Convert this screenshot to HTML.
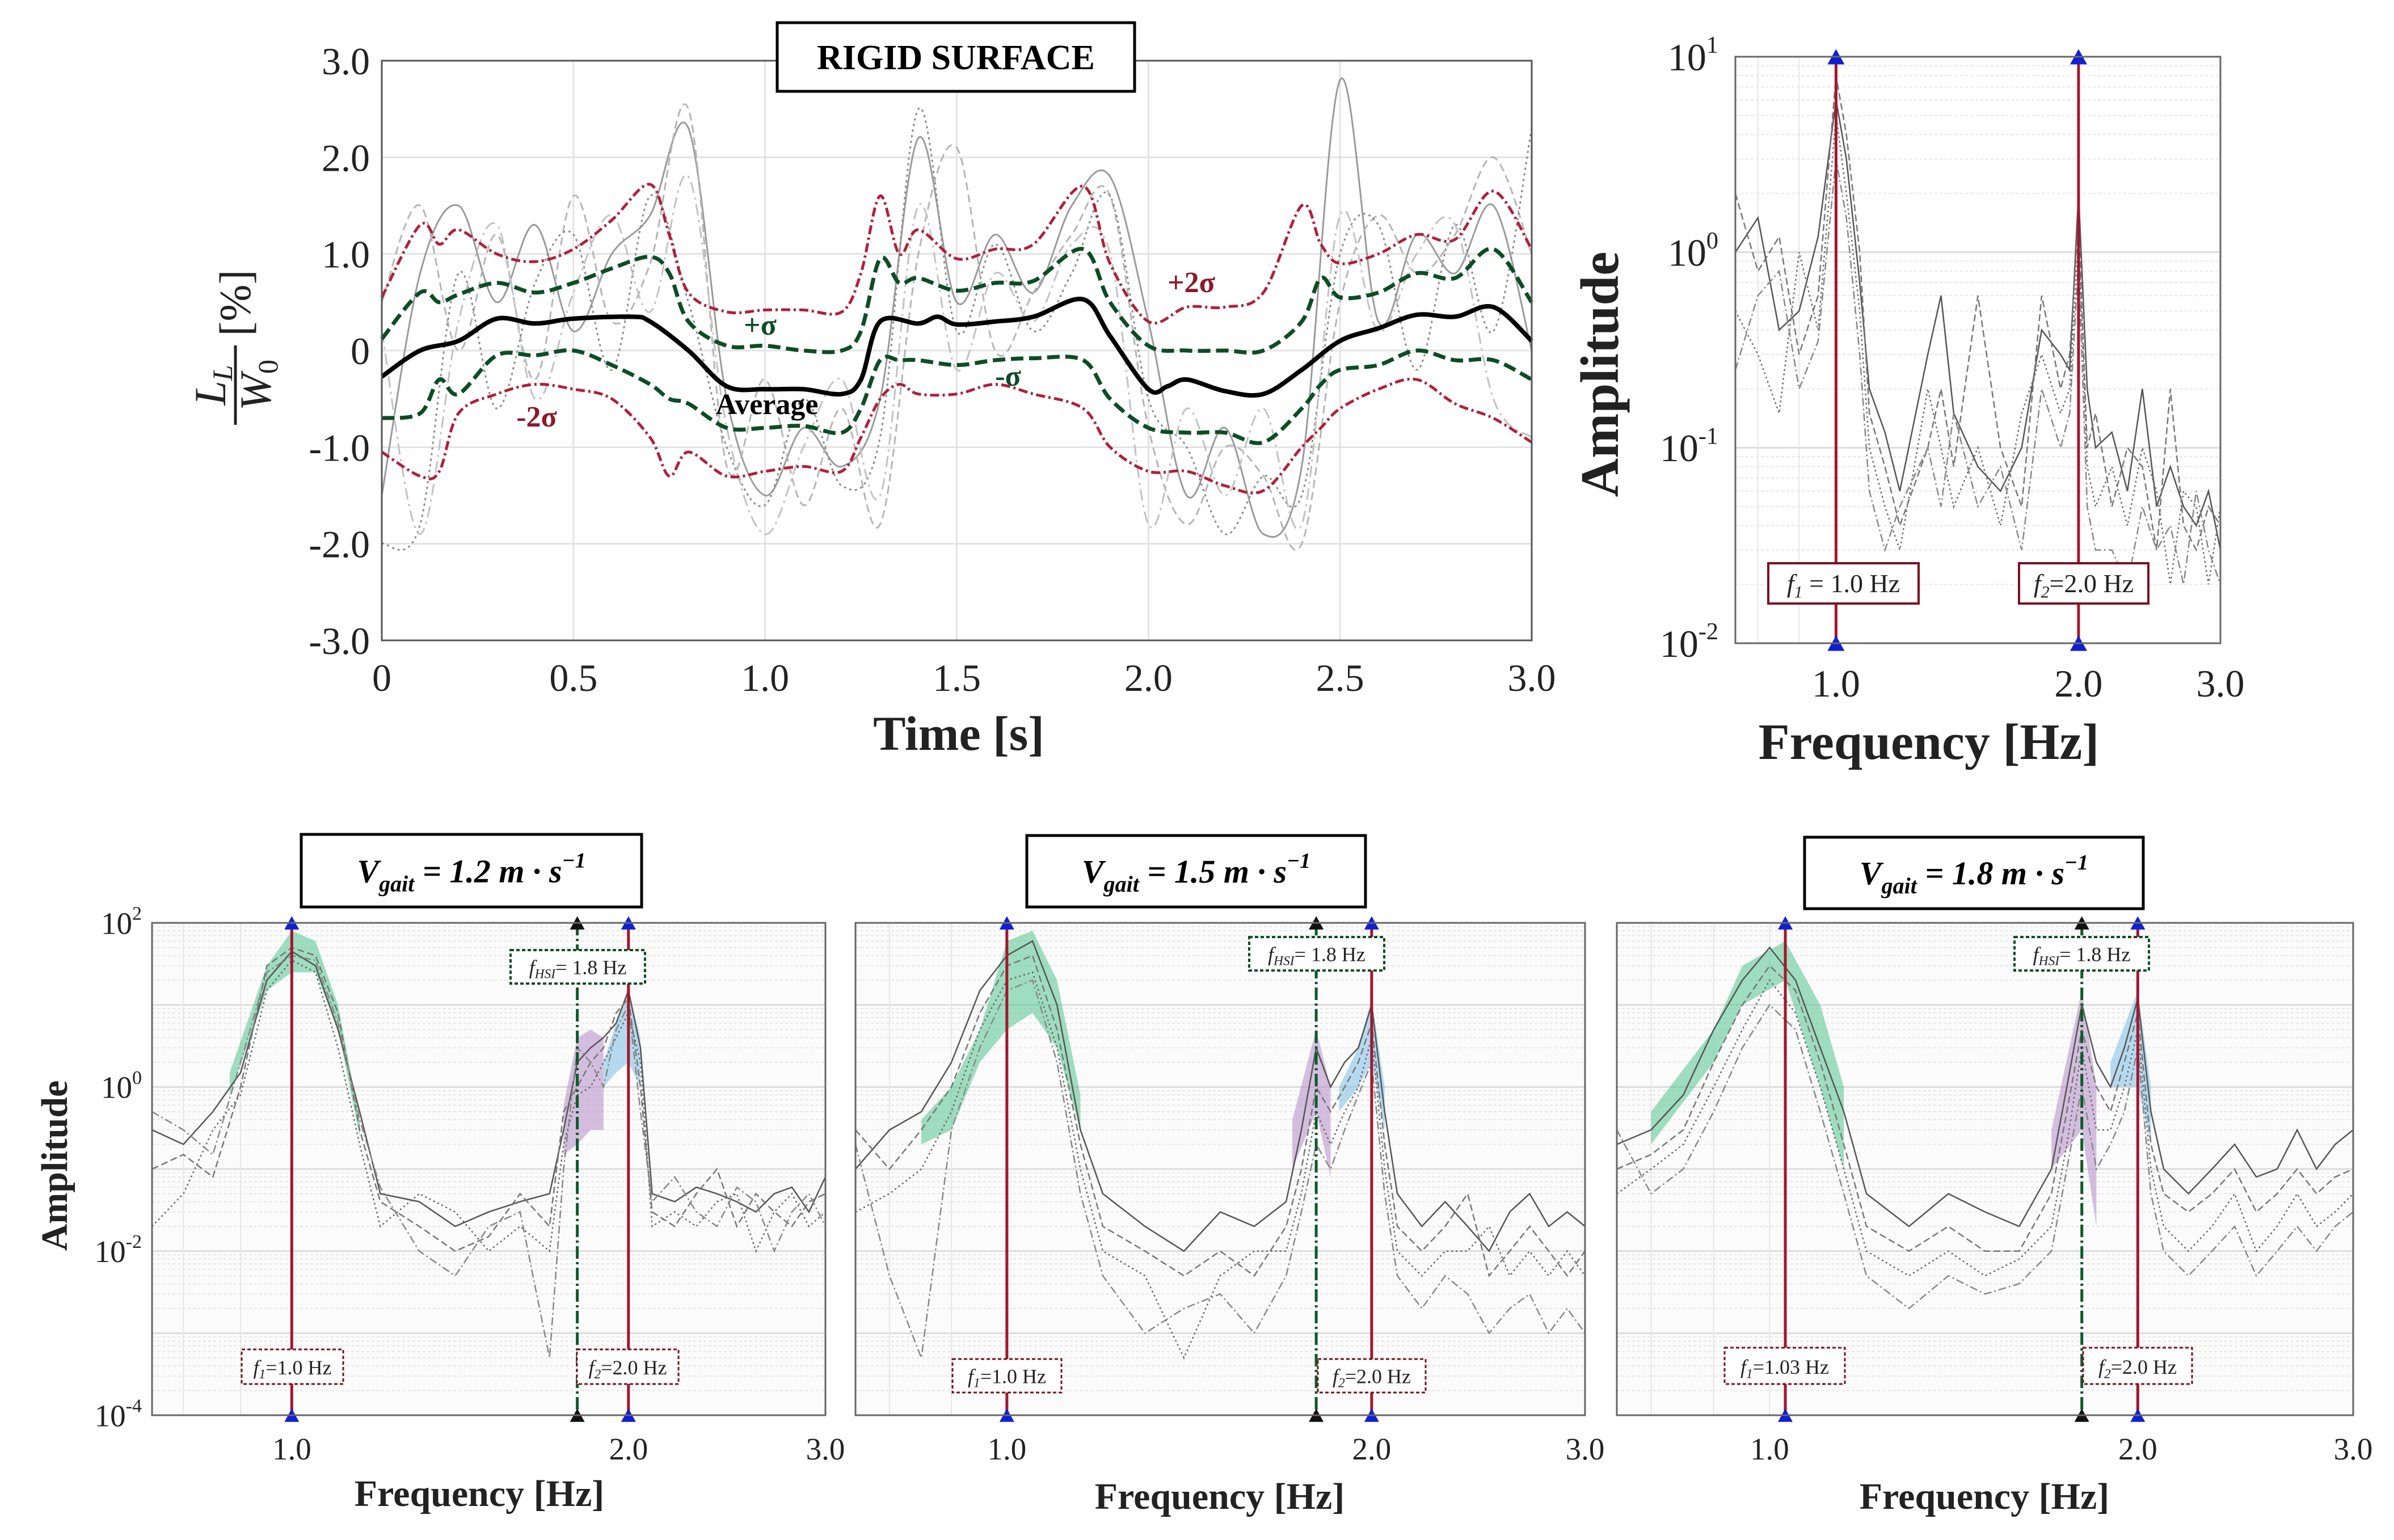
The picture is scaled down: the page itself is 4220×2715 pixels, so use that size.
<!DOCTYPE html>
<html><head><meta charset="utf-8"><style>
html,body{margin:0;padding:0;background:#fff}
svg{display:block}
text{font-family:"Liberation Serif",serif}
</style></head><body>
<svg id="fig" xmlns="http://www.w3.org/2000/svg" width="4220" height="2715" viewBox="0 0 4220 2715">
<rect width="4220" height="2715" fill="#fff"/>
<g id="layer"></g>
</svg>
<script>
// ---------- DATA ----------
// Time domain (rigid surface)
const timeGrid=[0,0.1,0.2,0.3,0.4,0.5,0.6,0.7,0.8,0.9,1.0,1.1,1.2,1.3,1.4,1.5,1.6,1.7,1.8,1.9,2.0,2.1,2.2,2.3,2.4,2.5,2.6,2.7,2.8,2.9,3.0];
const trace1=[-1.5,0.8,1.5,0.5,1.3,0.2,1.0,1.4,2.3,-0.5,-1.5,-0.8,-1.2,-0.5,2.2,0.5,1.2,0.6,1.5,1.8,0.3,-1.5,-0.8,-1.9,-1.2,2.8,0.3,1.2,0.8,1.5,0.0];
const trace2=[0.5,1.5,0.0,1.2,-0.3,1.6,0.3,0.9,2.5,-1.2,-0.3,-1.6,-0.6,-1.8,1.0,2.1,0.0,0.6,1.2,1.6,-0.8,-1.8,-1.0,-1.3,-2.0,0.5,1.4,0.8,1.2,2.0,1.0];
const trace3=[-2.0,-1.8,0.8,-0.6,0.7,1.2,-0.2,1.6,0.5,-1.0,-1.6,-0.5,-1.4,-0.9,2.5,0.2,1.1,0.2,0.8,1.6,-0.5,-1.0,-1.9,-1.3,-1.5,1.0,1.3,-0.2,1.3,0.2,2.3];
const trace4=[0.2,-1.9,0.3,1.3,-0.5,0.6,1.4,0.4,1.8,-0.8,-1.9,-1.0,-0.3,-1.5,1.5,-0.2,0.8,0.3,1.1,1.0,-1.8,-0.6,-1.5,-0.6,-1.8,1.4,0.2,1.0,1.3,-0.5,-0.9];
const avgT=[0,0.1,0.2,0.3,0.4,0.5,0.65,0.7,0.8,0.9,1.0,1.1,1.2,1.25,1.3,1.4,1.45,1.5,1.6,1.7,1.83,1.9,2.0,2.05,2.1,2.2,2.3,2.4,2.5,2.6,2.7,2.8,2.9,3.0];
const avgV=[-0.27,0.0,0.1,0.33,0.28,0.33,0.35,0.3,0.0,-0.37,-0.4,-0.4,-0.45,-0.3,0.3,0.28,0.35,0.27,0.3,0.35,0.53,0.15,-0.4,-0.37,-0.3,-0.42,-0.45,-0.2,0.1,0.23,0.37,0.35,0.45,0.1];
const bandT=[0,0.1,0.15,0.2,0.3,0.4,0.5,0.6,0.7,0.75,0.8,0.9,1.0,1.1,1.2,1.25,1.3,1.35,1.4,1.5,1.6,1.7,1.83,1.9,2.0,2.1,2.2,2.3,2.4,2.45,2.5,2.6,2.7,2.8,2.9,3.0];
const plusSigma=[0.12,0.6,0.5,0.58,0.7,0.6,0.7,0.85,0.97,0.8,0.3,0.05,0.05,0.0,0.0,0.2,0.95,0.7,0.75,0.62,0.7,0.72,1.05,0.5,0.05,0.0,0.0,0.0,0.3,0.75,0.55,0.6,0.8,0.75,1.05,0.5];
const minusSigma=[-0.7,-0.65,-0.3,-0.45,-0.05,-0.05,0.0,-0.15,-0.35,-0.5,-0.55,-0.8,-0.8,-0.78,-0.85,-0.6,-0.1,-0.1,-0.1,-0.15,-0.1,-0.08,-0.1,-0.5,-0.8,-0.85,-0.85,-0.95,-0.6,-0.35,-0.2,-0.15,0.0,-0.1,-0.1,-0.3];
const plus2Sigma=[0.55,1.3,1.1,1.25,1.0,0.92,1.05,1.35,1.72,1.2,0.6,0.4,0.42,0.42,0.4,0.8,1.6,1.0,1.25,0.95,1.05,1.1,1.7,0.9,0.3,0.45,0.45,0.6,1.5,1.1,0.9,1.0,1.2,1.15,1.65,1.05];
const minus2Sigma=[-1.05,-1.3,-1.25,-0.65,-0.45,-0.35,-0.4,-0.5,-0.9,-1.3,-1.05,-1.3,-1.25,-1.2,-1.25,-0.9,-0.5,-0.35,-0.45,-0.45,-0.35,-0.45,-0.6,-1.0,-1.25,-1.25,-1.4,-1.45,-1.0,-0.8,-0.6,-0.4,-0.3,-0.55,-0.7,-0.95];
const timeTicks=[0,0.5,1.0,1.5,2.0,2.5,3.0];
const timeTickLabels=["0","0.5","1.0","1.5","2.0","2.5","3.0"];
const loadTicks=[-3,-2,-1,0,1,2,3];
const loadTickLabels=["-3.0","-2.0","-1.0","0","1.0","2.0","3.0"];
// Spectrum (rigid)
const freqRigid=[0.75,0.8,0.85,0.9,0.95,1.0,1.03,1.07,1.1,1.15,1.2,1.3,1.35,1.4,1.5,1.6,1.7,1.8,1.9,1.95,2.0,2.05,2.1,2.2,2.3,2.4,2.5,2.6,2.7,2.8,2.9,3.0];
const rigidA=[1.0,1.5,0.4,0.5,1.2,6,3,0.7,0.2,0.12,0.06,0.3,0.6,0.15,0.08,0.06,0.1,0.4,0.3,0.25,2,0.2,0.1,0.12,0.06,0.2,0.05,0.08,0.05,0.04,0.06,0.03];
const rigidB=[2,0.8,1.2,0.3,0.6,8,4,1.0,0.15,0.08,0.04,0.1,0.2,0.08,0.6,0.1,0.05,0.6,0.2,0.3,1.5,0.1,0.15,0.05,0.1,0.08,0.03,0.2,0.04,0.03,0.05,0.04];
const rigidC=[0.5,0.3,0.15,1.0,0.4,5,2,0.5,0.1,0.05,0.03,0.2,0.1,0.05,0.1,0.04,0.15,0.3,0.15,0.2,1.2,0.08,0.05,0.08,0.04,0.1,0.06,0.02,0.06,0.05,0.02,0.05];
const rigidD=[0.25,0.6,0.8,0.2,0.35,3,1.5,0.3,0.06,0.03,0.05,0.1,0.05,0.15,0.05,0.08,0.03,0.2,0.1,0.15,0.9,0.05,0.03,0.03,0.02,0.05,0.03,0.04,0.02,0.06,0.03,0.02];
// Spectra by gait speed
const freqGait=[0.75,0.8,0.85,0.9,0.95,1.0,1.05,1.1,1.15,1.2,1.3,1.4,1.5,1.6,1.7,1.75,1.8,1.85,1.9,1.95,2.0,2.05,2.1,2.2,2.3,2.4,2.5,2.6,2.7,2.8,2.9,3.0];
const g12A=[0.3,0.2,0.5,1.5,20,45,30,5,0.5,0.05,0.04,0.02,0.03,0.04,0.05,0.3,2,3,4,6,15,3,0.05,0.04,0.06,0.05,0.04,0.03,0.05,0.06,0.03,0.08];
const g12B=[0.1,0.15,0.08,1.0,30,50,40,8,0.3,0.04,0.02,0.01,0.015,0.05,0.02,0.5,1,2,3,8,12,1,0.03,0.02,0.05,0.1,0.02,0.05,0.03,0.02,0.04,0.05];
const g12C=[0.02,0.05,0.3,0.8,15,35,25,3,0.2,0.02,0.05,0.03,0.01,0.02,0.01,0.2,0.8,1,2,4,8,2,0.02,0.03,0.02,0.04,0.05,0.01,0.03,0.05,0.02,0.03];
const g12D=[0.5,0.3,0.15,2,25,40,35,6,0.4,0.06,0.01,0.005,0.02,0.03,0.0005,0.1,3,2,1,5,10,0.5,0.04,0.08,0.03,0.02,0.06,0.04,0.01,0.03,0.05,0.02];
const g15A=[0.1,0.3,0.5,2,15,40,60,10,0.3,0.05,0.02,0.01,0.03,0.02,0.04,0.3,3,1,2,3,10,0.5,0.05,0.02,0.04,0.02,0.01,0.03,0.05,0.02,0.03,0.02];
const g15B=[0.3,0.1,0.3,1,8,30,40,5,0.2,0.02,0.01,0.005,0.01,0.005,0.02,0.1,1,0.5,1,2,6,0.2,0.02,0.01,0.02,0.05,0.005,0.01,0.02,0.01,0.005,0.01];
const g15C=[0.03,0.05,0.1,0.5,5,20,25,3,0.1,0.01,0.005,0.0005,0.005,0.01,0.01,0.05,0.5,0.2,0.5,1,4,0.1,0.01,0.005,0.01,0.01,0.02,0.005,0.01,0.005,0.01,0.005];
const g15D=[0.2,0.005,0.0005,0.3,3,15,20,2,0.05,0.005,0.001,0.002,0.003,0.001,0.005,0.03,0.2,0.1,0.3,0.8,2,0.05,0.005,0.002,0.005,0.003,0.001,0.002,0.003,0.001,0.002,0.001];
const g18A=[0.2,0.3,0.8,5,20,50,20,3,0.5,0.05,0.02,0.05,0.03,0.02,0.1,1,10,2,1,3,12,0.5,0.1,0.05,0.1,0.2,0.08,0.1,0.3,0.1,0.2,0.3];
const g18B=[0.1,0.15,0.3,2,10,30,15,2,0.2,0.02,0.01,0.02,0.01,0.01,0.05,0.5,5,1,0.5,2,8,0.2,0.05,0.03,0.05,0.1,0.03,0.05,0.1,0.05,0.08,0.1];
const g18C=[0.05,0.1,0.2,1,5,20,8,1,0.1,0.01,0.005,0.01,0.005,0.008,0.02,0.2,3,0.3,0.3,1,5,0.1,0.02,0.01,0.02,0.05,0.01,0.02,0.05,0.02,0.03,0.05];
const g18D=[0.3,0.05,0.1,0.5,3,10,5,0.5,0.05,0.005,0.002,0.005,0.003,0.004,0.01,0.1,1,0.1,0.2,0.5,3,0.05,0.01,0.005,0.01,0.02,0.005,0.01,0.02,0.01,0.02,0.03];
// Shaded bands (freq, low, high)
const greenF12=[0.88,0.95,1.0,1.05,1.1,1.15], greenLo12=[0.8,15,25,25,5,0.25], greenHi12=[1.5,30,80,60,10,0.4];
const purpleF12=[1.75,1.8,1.85,1.9], purpleLo12=[0.15,0.2,0.3,0.3], purpleHi12=[0.6,4,5,4];
const blueF12=[1.9,1.95,2.0,2.05], blueLo12=[1,1.5,2,1], blueHi12=[2,6,15,4];
const greenF15=[0.85,0.9,0.95,1.0,1.05,1.1,1.15], greenLo15=[0.2,0.3,2,5,8,3,0.3], greenHi15=[0.4,1,5,60,80,20,0.8];
const purpleF15=[1.72,1.8,1.85], purpleLo15=[0.1,0.5,0.08], purpleHi15=[0.4,5,1];
const blueF15=[1.88,1.95,2.0,2.05], blueLo15=[0.5,1,2,0.3], blueHi15=[1,3,12,1];
const greenF18=[0.8,0.9,0.95,1.03,1.1,1.15], greenLo18=[0.2,2,10,20,1,0.1], greenHi18=[0.5,5,30,60,10,1];
const purpleF18=[1.7,1.8,1.85], purpleLo18=[0.1,0.3,0.02], purpleHi18=[0.3,15,1];
const blueF18=[1.9,2.0,2.05], blueLo18=[1,1,0.2], blueHi18=[2,15,1];
const freqTicks=[1,2,3];
const freqTickLabels=["1.0","2.0","3.0"];

// ---------- DRAWING ----------
const NS="http://www.w3.org/2000/svg";
const layer=document.getElementById('layer');
function mk(tag,attrs,parent){const e=document.createElementNS(NS,tag);for(const k in attrs)e.setAttribute(k,attrs[k]);(parent||layer).appendChild(e);return e;}
function smooth(pts){let d='M'+pts[0][0]+','+pts[0][1];for(let i=0;i<pts.length-1;i++){const p0=pts[i-1]||pts[i],p1=pts[i],p2=pts[i+1],p3=pts[i+2]||p2;const c1=[p1[0]+(p2[0]-p0[0])/6,p1[1]+(p2[1]-p0[1])/6],c2=[p2[0]-(p3[0]-p1[0])/6,p2[1]-(p3[1]-p1[1])/6];d+=' C'+c1[0]+','+c1[1]+' '+c2[0]+','+c2[1]+' '+p2[0]+','+p2[1];}return d;}
function poly(pts){return 'M'+pts.map(p=>p[0]+','+p[1]).join(' L');}
function linAxis(a,b,p,q){return v=>p+(v-a)/(b-a)*(q-p);}
function logAxis(a,b,p,q){return v=>p+(Math.log10(v)-Math.log10(a))/(Math.log10(b)-Math.log10(a))*(q-p);}
function logYAxis(e0,e1,p,q){return v=>p+(Math.log10(Math.max(v,1e-6))-e0)/(e1-e0)*(q-p);}

// ===== Top-left time plot =====
const TL={x0:673,x1:2700,y0:107,y1:1129};
const tx=linAxis(0,3,TL.x0,TL.x1), ty=linAxis(-3,3,TL.y1,TL.y0);
let g=mk('g',{});


for(const t of timeTicks){const l=mk('line',{x1:tx(t),x2:tx(t),y1:TL.y0,y2:TL.y1,stroke:'#e3e3e3','stroke-width':3},g);}
for(const v of loadTicks){const l=mk('line',{x1:TL.x0,x2:TL.x1,y1:ty(v),y2:ty(v),stroke:'#e3e3e3','stroke-width':3},g);}
const grays=[['#9a9a9a','none'],['#b5b5b5','14,8'],['#8c8c8c','4,6'],['#c2c2c2','20,8,4,8']];
[trace1,trace2,trace3,trace4].forEach((tr,i)=>{const p=mk('path',{d:smooth(tr.map((v,j)=>[tx(timeGrid[j]),ty(v)])),fill:'none',stroke:grays[i][0],'stroke-width':3,'stroke-dasharray':grays[i][1]},g);});
function band(arr,color,dash,name,w){const p=mk('path',{d:smooth(arr.map((v,j)=>[tx(bandT[j]),ty(v)])),fill:'none',stroke:color,'stroke-width':w,'stroke-dasharray':dash},g);}
band(plus2Sigma,'#b0203a','16,6,4,6','plus-2sigma-line',5);
band(minus2Sigma,'#b0203a','16,6,4,6','minus-2sigma-line',5);
band(plusSigma,'#0d4d24','22,10','plus-sigma-line',7);
band(minusSigma,'#0d4d24','22,10','minus-sigma-line',7);
let ap=mk('path',{d:smooth(avgV.map((v,j)=>[tx(avgT[j]),ty(v)])),fill:'none',stroke:'#000','stroke-width':8},g);

let fr=mk('rect',{x:TL.x0,y:TL.y0,width:TL.x1-TL.x0,height:TL.y1-TL.y0,fill:'none',stroke:'#555','stroke-width':3},g);

timeTicks.forEach((t,i)=>{const e=mk('text',{x:tx(t),y:1218,'font-size':68,'text-anchor':'middle',fill:'#222'},g);e.textContent=timeTickLabels[i];});
loadTicks.forEach((v,i)=>{const e=mk('text',{x:652,y:ty(v)+24,'font-size':68,'text-anchor':'end',fill:'#222'},g);e.textContent=loadTickLabels[i];});
</script>
<script>
// static labels for top-left
(function(){const L=document.getElementById('layer');const NS="http://www.w3.org/2000/svg";
function t(x,y,s,txt,extra,name){const e=document.createElementNS(NS,'text');e.setAttribute('x',x);e.setAttribute('y',y);e.setAttribute('font-size',s);for(const k in extra)e.setAttribute(k,extra[k]);e.textContent=txt;L.appendChild(e);return e;}
t(1690,1322,86,'Time [s]',{'text-anchor':'middle','font-weight':'bold',fill:'#222'},'x-axis-title');
t(2100,515,52,'+2σ',{'text-anchor':'middle','font-weight':'bold',fill:'#8b1a2a'},'plus-2sigma-label');
t(1340,590,52,'+σ',{'text-anchor':'middle','font-weight':'bold',fill:'#0d4d24'},'plus-sigma-label');
t(1777,680,52,'-σ',{'text-anchor':'middle','font-weight':'bold',fill:'#0d4d24'},'minus-sigma-label');
t(946,752,52,'-2σ',{'text-anchor':'middle','font-weight':'bold',fill:'#8b1a2a'},'minus-2sigma-label');
t(1352,730,52,'Average',{'text-anchor':'middle','font-weight':'bold',fill:'#000'},'average-label');
})();
</script>
<script>
// ---------- spectra ----------
(function(){
const NS="http://www.w3.org/2000/svg";const layer=document.getElementById('layer');
function mk(tag,attrs,parent){const e=document.createElementNS(NS,tag);for(const k in attrs)e.setAttribute(k,attrs[k]);(parent||layer).appendChild(e);return e;}
function poly(pts){return 'M'+pts.map(p=>p[0].toFixed(1)+','+p[1].toFixed(1)).join(' L');}
function spectrum(P,traces,bands,lines,boxes,yExp,tickSize,showYLabels,name){
  const fx=v=>P.x0+(Math.log10(v)-Math.log10(0.75))/(Math.log10(3)-Math.log10(0.75))*(P.x1-P.x0);
  const fy=v=>P.y1-(Math.log10(Math.max(v,1e-6))-yExp[0])/(yExp[1]-yExp[0])*(P.y1-P.y0);
  const g=mk('g',{});
  
  
  mk('rect',{x:P.x0,y:P.y0,width:P.x1-P.x0,height:P.y1-P.y0,fill:P.bg},g);
  for(let e=yExp[0];e<yExp[1];e++){for(let m=2;m<10;m++){const y=fy(m*Math.pow(10,e));const l=mk('line',{x1:P.x0,x2:P.x1,y1:y,y2:y,stroke:'#e6e6e6','stroke-width':2,'stroke-dasharray':'5,4'},g);}}
  for(let e=yExp[0];e<=yExp[1];e++){const y=fy(Math.pow(10,e));const l=mk('line',{x1:P.x0,x2:P.x1,y1:y,y2:y,stroke:'#dcdcdc','stroke-width':3},g);}
  [0.8,0.9,1,2,3].forEach(f=>{const l=mk('line',{x1:fx(f),x2:fx(f),y1:P.y0,y2:P.y1,stroke:'#e6e6e6','stroke-width':2},g);});
  bands.forEach(b=>{const pts=b.f.map((f,i)=>[fx(f),fy(b.hi[i])]).concat(b.f.map((f,i)=>[fx(f),fy(b.lo[i])]).reverse());const p=mk('path',{d:poly(pts)+' Z',fill:b.c,'fill-opacity':0.55},g);});
  const st=[['#555','none'],['#777','12,6'],['#666','3,5'],['#888','14,5,3,5']];
  traces.forEach((tr,i)=>{const p=mk('path',{d:poly(tr.v.map((v,j)=>[fx(tr.f[j]),fy(v)])),fill:'none',stroke:st[i%4][0],'stroke-width':2.5,'stroke-dasharray':st[i%4][1]},g);});
  lines.forEach(L=>{const x=fx(L.f);const l=mk('line',{x1:x,x2:x,y1:P.y0,y2:P.y1,stroke:L.c,'stroke-width':5,'stroke-dasharray':L.d},g);
    const s=P.tri;const t1=mk('path',{d:`M${x-s},${P.y0+s*0.9} L${x+s},${P.y0+s*0.9} L${x},${P.y0-s*0.9} Z`,fill:L.t},g);
    const t2=mk('path',{d:`M${x-s},${P.y1+s*0.9} L${x+s},${P.y1+s*0.9} L${x},${P.y1-s*0.9} Z`,fill:L.t},g);});
  const fr=mk('rect',{x:P.x0,y:P.y0,width:P.x1-P.x0,height:P.y1-P.y0,fill:'none',stroke:'#666','stroke-width':3},g);
  boxes.forEach(B=>{const r=mk('rect',{x:B.x,y:B.y,width:B.w,height:B.h,fill:'#fff',stroke:B.c,'stroke-width':B.sw,'stroke-dasharray':B.d},g);
    const t=mk('text',{x:B.x+B.w/2,y:B.y+B.h*0.72,'font-size':B.fs,'text-anchor':'middle',fill:'#222'},g);
    const a=mk('tspan',{'font-style':'italic'},t);a.textContent='f';const b=mk('tspan',{'font-size':B.fs*0.65,dy:B.fs*0.2,'font-style':'italic'},t);b.textContent=B.sub;const c=mk('tspan',{dy:-B.fs*0.2},t);c.textContent=B.rest;});
  freqTicks.forEach((f,i)=>{const e=mk('text',{x:fx(f),y:P.xl,'font-size':tickSize,'text-anchor':'middle',fill:'#222'},g);e.textContent=freqTickLabels[i];});
  if(showYLabels){for(let e=yExp[0];e<=yExp[1];e+=P.ystep){const t=mk('text',{x:P.x0-P.ylo,y:fy(Math.pow(10,e))+tickSize*0.35,'font-size':tickSize,'text-anchor':'end',fill:'#222'},g);const a=mk('tspan',{},t);a.textContent='10';const b=mk('tspan',{'font-size':tickSize*0.62,dy:-tickSize*0.45},t);b.textContent=String(e);}}
  return g;
}
const redLine='none', hsiDash='22,6,4,6';
// Top-right rigid
spectrum({x0:3059,x1:3914,y0:100,y1:1134,xl:1228,tri:15,ystep:1,ylo:30,bg:'#fff'},
  [{f:freqRigid,v:rigidA},{f:freqRigid,v:rigidB},{f:freqRigid,v:rigidC},{f:freqRigid,v:rigidD}],[],
  [{f:1.0,c:'#a3162e',d:'none',t:'#1020d0',n:'f1-line'},{f:2.0,c:'#a3162e',d:'none',t:'#1020d0',n:'f2-line'}],
  [{x:3117,y:993,w:265,h:71,c:'#7a1020',sw:4,d:'none',fs:46,sub:'1',rest:' = 1.0 Hz',n:'f1-label'},{x:3559,y:993,w:228,h:71,c:'#7a1020',sw:4,d:'none',fs:46,sub:'2',rest:'=2.0 Hz',n:'f2-label'}],
  [-2,1],68,true,'rigid-spectrum-plot');
// Bottom panels
const bp=[{x0:268,x1:1455,lab:true,tr:[g12A,g12B,g12C,g12D],gb:[greenF12,greenLo12,greenHi12],pb:[purpleF12,purpleLo12,purpleHi12],bb:[blueF12,blueLo12,blueHi12],f1:1.0,f1t:'=1.0 Hz',bx:{f1:[426,2379,179,61],hsi:[900,1675,237,59],f2:[1017,2379,179,61]},n:'spectrum-1p2'},
{x0:1508,x1:2794,lab:false,tr:[g15A,g15B,g15C,g15D],gb:[greenF15,greenLo15,greenHi15],pb:[purpleF15,purpleLo15,purpleHi15],bb:[blueF15,blueLo15,blueHi15],f1:1.0,f1t:'=1.0 Hz',bx:{f1:[1679,2396,192,59],hsi:[2202,1652,238,59],f2:[2323,2396,190,59]},n:'spectrum-1p5'},
{x0:2850,x1:4148,lab:false,tr:[g18A,g18B,g18C,g18D],gb:[greenF18,greenLo18,greenHi18],pb:[purpleF18,purpleLo18,purpleHi18],bb:[blueF18,blueLo18,blueHi18],f1:1.03,f1t:'=1.03 Hz',bx:{f1:[3040,2376,212,64],hsi:[3551,1652,237,59],f2:[3672,2376,192,64]},n:'spectrum-1p8'}];
bp.forEach(p=>{
  spectrum({x0:p.x0,x1:p.x1,y0:1627,y1:2495,xl:2573,tri:13,ystep:2,ylo:18,bg:'#fbfbfb'},
    p.tr.map(v=>({f:freqGait,v:v})),
    [{f:p.gb[0],lo:p.gb[1],hi:p.gb[2],c:'#52c48e',n:'f1-band'},{f:p.pb[0],lo:p.pb[1],hi:p.pb[2],c:'#b58cc8',n:'hsi-band'},{f:p.bb[0],lo:p.bb[1],hi:p.bb[2],c:'#7cc0e6',n:'f2-band'}],
    [{f:p.f1,c:'#a3162e',d:'none',t:'#1020d0',n:'f1-line'},{f:1.8,c:'#0d5a2a',d:hsiDash,t:'#111',n:'hsi-line'},{f:2.0,c:'#a3162e',d:'none',t:'#1020d0',n:'f2-line'}],
    [{x:p.bx.f1[0],y:p.bx.f1[1],w:p.bx.f1[2],h:p.bx.f1[3],c:'#7a1020',sw:3,d:'6,4',fs:36,sub:'1',rest:p.f1t,n:'f1-label'},
     {x:p.bx.hsi[0],y:p.bx.hsi[1],w:p.bx.hsi[2],h:p.bx.hsi[3],c:'#0d4d24',sw:4,d:'6,4',fs:36,sub:'HSI',rest:'= 1.8 Hz',n:'fhsi-label'},
     {x:p.bx.f2[0],y:p.bx.f2[1],w:p.bx.f2[2],h:p.bx.f2[3],c:'#7a1020',sw:3,d:'6,4',fs:36,sub:'2',rest:'=2.0 Hz',n:'f2-label'}],
    [-4,2],55,p.lab,p.n);
});
// Titles and axis labels
function t(x,y,s,txt,extra,name){const e=mk('text',Object.assign({x:x,y:y,'font-size':s},extra));e.textContent=txt;return e;}
function box(x,y,w,h,name){const r=mk('rect',{x:x,y:y,width:w,height:h,fill:'#fff',stroke:'#000','stroke-width':5});}
box(1370,40,630,121,'title-box');
t(1685,122,62,'RIGID SURFACE',{'text-anchor':'middle','font-weight':'bold'},'chart-title');
[[531,1471,600,128,'1.2'],[1810,1473,597,126,'1.5'],[3181,1476,597,126,'1.8']].forEach(b=>{
  box(b[0],b[1],b[2],b[3],'speed-title-box');
  const e=mk('text',{x:b[0]+b[2]/2,y:b[1]+b[3]*0.66,'font-size':58,'text-anchor':'middle','font-weight':'bold','font-style':'italic'});
  
  const a=mk('tspan',{},e);a.textContent='V';const s=mk('tspan',{'font-size':40,dy:16},e);s.textContent='gait';
  const c=mk('tspan',{dy:-16},e);c.textContent=' =  '+b[4]+' m · s';const d=mk('tspan',{'font-size':38,dy:-26},e);d.textContent='−1';
});
t(3400,1338,90,'Frequency [Hz]',{'text-anchor':'middle','font-weight':'bold',fill:'#222'},'x-axis-title-rigid');
t(2852,660,95,'Amplitude',{'text-anchor':'middle','font-weight':'bold',fill:'#222',transform:'rotate(-90 2852 660)'},'y-axis-title-rigid');
t(118,2055,66,'Amplitude',{'text-anchor':'middle','font-weight':'bold',fill:'#222',transform:'rotate(-90 118 2055)'},'y-axis-title-bottom');
t(845,2655,66,'Frequency [Hz]',{'text-anchor':'middle','font-weight':'bold',fill:'#222'},'x-axis-title-1p2');
t(2150,2660,66,'Frequency [Hz]',{'text-anchor':'middle','font-weight':'bold',fill:'#222'},'x-axis-title-1p5');
t(3498,2660,66,'Frequency [Hz]',{'text-anchor':'middle','font-weight':'bold',fill:'#222'},'x-axis-title-1p8');
// y label top-left: L_L / W_0 [%]
const yl=mk('g',{transform:'translate(415 619) rotate(-90)'});

const n1=mk('text',{x:-60,y:-18,'font-size':78,'text-anchor':'middle','font-style':'italic',fill:'#222'},yl);
const n1a=mk('tspan',{},n1);n1a.textContent='L';const n1b=mk('tspan',{'font-size':50,dy:12},n1);n1b.textContent='L';
mk('line',{x1:-130,x2:10,y1:0,y2:0,stroke:'#222','stroke-width':5},yl);
const n2=mk('text',{x:-60,y:62,'font-size':78,'text-anchor':'middle','font-style':'italic',fill:'#222'},yl);
const n2a=mk('tspan',{},n2);n2a.textContent='W';const n2b=mk('tspan',{'font-size':50,dy:12,'font-style':'normal'},n2);n2b.textContent='0';
const n3=mk('text',{x:85,y:26,'font-size':78,'text-anchor':'middle',fill:'#222'},yl);n3.textContent='[%]';
})();
</script>
</body></html>
